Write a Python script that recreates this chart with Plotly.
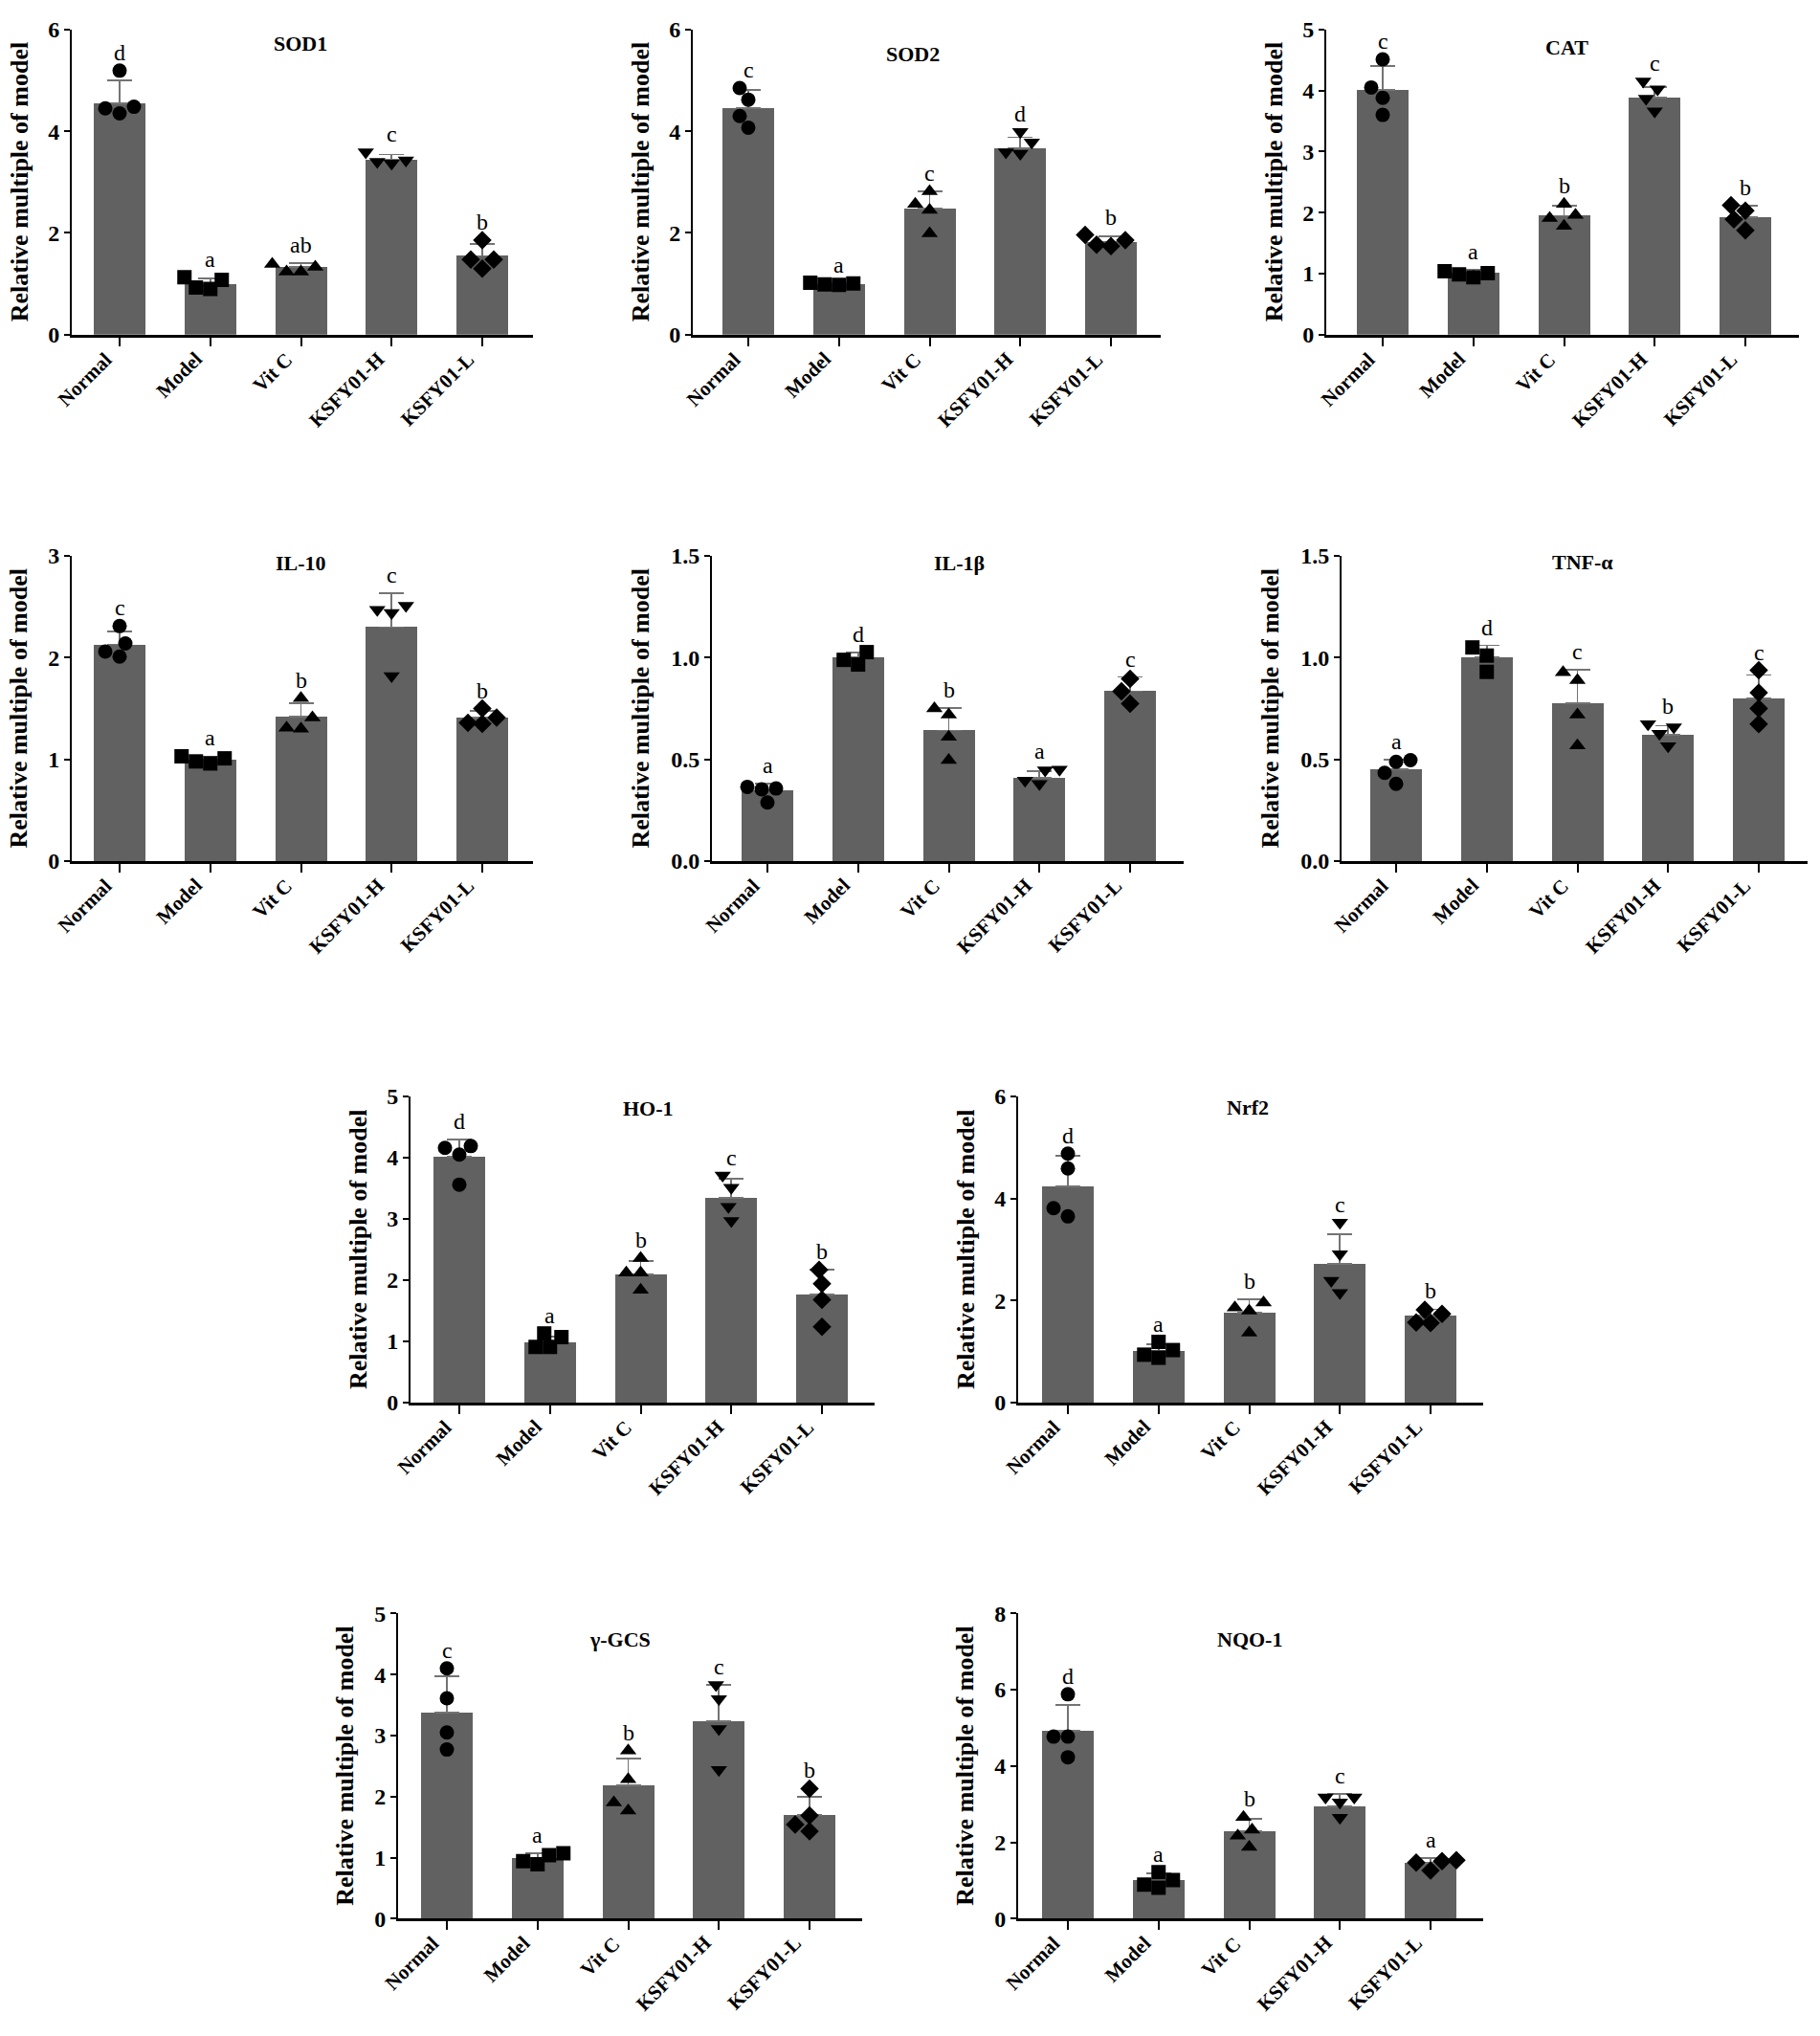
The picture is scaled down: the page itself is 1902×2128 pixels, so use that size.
import plotly.graph_objects as go

# ---------------- data ----------------
groups = ["Normal", "Model", "Vit C", "KSFY01-H", "KSFY01-L"]

sod1_mean = [4.55, 0.99, 1.33, 3.44, 1.55]
sod1_sd = [0.45, 0.12, 0.07, 0.10, 0.23]
sod1_pts = [[5.19, 4.48, 4.45, 4.35], [1.08, 0.90, 0.93, 1.13], [1.33, 1.24, 1.24, 1.39],
            [3.59, 3.37, 3.43, 3.40], [1.48, 1.86, 1.30, 1.48]]
sod1_letters = ["d", "a", "ab", "c", "b"]

sod2_mean = [4.46, 1.00, 2.48, 3.67, 1.83]
sod2_sd = [0.35, 0.02, 0.34, 0.21, 0.10]
sod2_pts = [[4.85, 4.62, 4.30, 4.07], [1.02, 0.99, 1.01, 0.98], [2.82, 2.57, 2.45, 1.99],
            [3.99, 3.78, 3.56, 3.59], [1.86, 1.74, 1.77, 1.96]]
sod2_letters = ["c", "a", "c", "d", "b"]

cat_mean = [4.01, 1.01, 1.95, 3.89, 1.92]
cat_sd = [0.39, 0.06, 0.16, 0.17, 0.19]
cat_pts = [[4.51, 4.05, 3.88, 3.60], [1.01, 0.94, 0.99, 1.04], [2.14, 1.96, 1.91, 1.78],
           [4.15, 4.02, 3.87, 3.66], [2.12, 2.03, 1.89, 1.71]]
cat_letters = ["c", "a", "b", "c", "b"]

il10_mean = [2.13, 1.00, 1.42, 2.30, 1.41]
il10_sd = [0.13, 0.03, 0.13, 0.33, 0.07]
il10_pts = [[2.31, 2.14, 2.06, 2.01], [1.01, 0.96, 0.98, 1.03], [1.60, 1.41, 1.30, 1.31],
            [2.47, 2.44, 2.51, 1.82], [1.41, 1.35, 1.50, 1.36]]
il10_letters = ["c", "a", "b", "c", "b"]

il1b_mean = [0.35, 1.00, 0.642, 0.411, 0.835]
il1b_sd = [0.03, 0.025, 0.11, 0.03, 0.07]
il1b_pts = [[0.353, 0.288, 0.357, 0.365], [1.027, 0.966, 0.989], [0.75, 0.72, 0.61, 0.496],
            [0.447, 0.45, 0.38, 0.396], [0.896, 0.835, 0.773]]
il1b_letters = ["a", "d", "b", "a", "c"]

tnfa_mean = [0.45, 1.00, 0.776, 0.62, 0.80]
tnfa_sd = [0.05, 0.06, 0.165, 0.045, 0.115]
tnfa_pts = [[0.496, 0.488, 0.434, 0.38], [1.05, 1.01, 0.93], [0.927, 0.889, 0.72, 0.568],
            [0.658, 0.673, 0.627, 0.565], [0.938, 0.827, 0.75, 0.673]]
tnfa_letters = ["a", "d", "c", "b", "c"]

ho1_mean = [4.01, 0.99, 2.09, 3.34, 1.77]
ho1_sd = [0.29, 0.09, 0.22, 0.31, 0.40]
ho1_pts = [[4.16, 4.19, 4.05, 3.56], [1.07, 0.91, 0.91, 1.13], [2.36, 2.12, 2.12, 1.84],
           [3.71, 3.51, 3.20, 2.97], [2.17, 1.94, 1.68, 1.24]]
ho1_letters = ["d", "a", "b", "c", "b"]

nrf2_mean = [4.24, 1.02, 1.77, 2.72, 1.71]
nrf2_sd = [0.59, 0.12, 0.26, 0.58, 0.12]
nrf2_pts = [[4.88, 4.59, 3.81, 3.65], [1.03, 0.88, 0.94, 1.19], [1.86, 1.80, 1.96, 1.37],
            [3.53, 2.91, 2.39, 2.15], [1.74, 1.56, 1.57, 1.82]]
nrf2_letters = ["d", "a", "b", "c", "b"]

gcs_mean = [3.38, 1.00, 2.19, 3.23, 1.70]
gcs_sd = [0.59, 0.07, 0.43, 0.60, 0.30]
gcs_pts = [[4.10, 3.61, 3.05, 2.77], [1.04, 0.89, 0.94, 1.07], [2.75, 2.28, 1.90, 1.77],
           [3.60, 3.83, 3.11, 2.44], [2.13, 1.69, 1.54, 1.43]]
gcs_letters = ["c", "a", "b", "c", "b"]

nqo1_mean = [4.92, 1.01, 2.29, 2.94, 1.47]
nqo1_sd = [0.69, 0.17, 0.32, 0.32, 0.12]
nqo1_pts = [[5.88, 4.77, 4.77, 4.23], [1.01, 0.81, 0.89, 1.22], [2.66, 2.33, 2.17, 1.88],
            [3.18, 3.05, 3.18, 2.65], [1.47, 1.26, 1.51, 1.53]]
nqo1_letters = ["d", "a", "b", "c", "a"]

titles = ["SOD1", "SOD2", "CAT", "IL-10", "IL-1β", "TNF-α", "HO-1", "Nrf2", "γ-GCS", "NQO-1"]
y_max = [6, 6, 5, 3, 1.5, 1.5, 5, 6, 5, 8]
y_step = [2, 2, 1, 1, 0.5, 0.5, 1, 2, 1, 2]
y_fmt = ["d", "d", "d", "d", ".1f", ".1f", "d", "d", "d", "d"]

data = [
    (sod1_mean, sod1_sd, sod1_pts, sod1_letters),
    (sod2_mean, sod2_sd, sod2_pts, sod2_letters),
    (cat_mean, cat_sd, cat_pts, cat_letters),
    (il10_mean, il10_sd, il10_pts, il10_letters),
    (il1b_mean, il1b_sd, il1b_pts, il1b_letters),
    (tnfa_mean, tnfa_sd, tnfa_pts, tnfa_letters),
    (ho1_mean, ho1_sd, ho1_pts, ho1_letters),
    (nrf2_mean, nrf2_sd, nrf2_pts, nrf2_letters),
    (gcs_mean, gcs_sd, gcs_pts, gcs_letters),
    (nqo1_mean, nqo1_sd, nqo1_pts, nqo1_letters),
]

# ---------------- layout (pixels) ----------------
W, H = 1902, 2128
PITCH = 94.75
rows = {1: (341, 18), 2: (898, 575), 3: (1471, 1147), 4: (2017, 1694)}
# (row, y-axis x, first tick x, x-axis end)
geo = [
    (1, 75, 125, 557), (1, 724, 782, 1213), (1, 1386, 1445, 1880),
    (2, 75, 125, 557), (2, 744, 802, 1237), (2, 1402, 1459, 1889),
    (3, 429, 480, 914), (3, 1064, 1116, 1550),
    (4, 416, 467, 901), (4, 1064, 1116, 1550),
]
title_pos = [(1.99, 0.955), (1.81, 0.92), (2.03, 0.94), (2.0, 0.975), (2.12, 0.975),
             (2.06, 0.98), (2.08, 0.96), (1.98, 0.965), (1.91, 0.915), (2.0, 0.915)]

symbols = ["circle", "square", "triangle-up", "triangle-down", "diamond"]
BAR = "#616161"
FONT = "Liberation Serif"
MS = 15


def swarm(vals, px_per_unit):
    placed = []
    offs = [0.0] * len(vals)
    order = sorted(range(len(vals)), key=lambda k: vals[k])
    cands = [0]
    for j in range(1, 14):
        cands += [-3 * j, 3 * j]
    for k in order:
        yp = vals[k] * px_per_unit
        for c in cands:
            if all((c - px) ** 2 + (yp - py) ** 2 >= MS ** 2 for py, px in placed):
                break
        placed.append((yp, c))
        offs[k] = c / PITCH
    return offs


fig = go.Figure()
annotations = []
layout_axes = {}

for p, (title, (mean, sd, pts, letters)) in enumerate(zip(titles, data)):
    row, xa, xf, xe = geo[p]
    yz, yt = rows[row]
    n = "" if p == 0 else str(p + 1)
    xref, yref = "x" + n, "y" + n
    xlo = -(xf - xa) / PITCH
    xhi = (xe - xf) / PITCH
    px_per_unit = (yz - yt) / y_max[p]
    xs = list(range(len(groups)))

    fig.add_trace(go.Bar(
        x=xs, y=mean, width=0.57, marker=dict(color=BAR, line=dict(width=0)),
        error_y=dict(type="data", array=sd, arrayminus=[0] * len(sd), symmetric=False,
                     color="#747474", thickness=1.8, width=13),
        xaxis=xref, yaxis=yref, showlegend=False, hoverinfo="skip"))

    for g in range(len(groups)):
        offs = swarm(pts[g], px_per_unit)
        fig.add_trace(go.Scatter(
            x=[g + o for o in offs], y=pts[g], mode="markers",
            marker=dict(symbol=symbols[g], size=MS, color="black", line=dict(width=0)),
            xaxis=xref, yaxis=yref, showlegend=False, hoverinfo="skip"))
        top = max(mean[g] + sd[g], max(pts[g]))
        annotations.append(dict(
            x=g, y=top, xref=xref, yref=yref, text=letters[g], showarrow=False,
            yanchor="bottom", yshift=4, font=dict(family=FONT, size=24, color="black")))
        # category label, rotated, ending just left of the tick
        annotations.append(dict(
            x=g, y=0, xref=xref, yref=yref + " domain", text=groups[g], showarrow=False,
            textangle=-45, xanchor="right", yanchor="top", xshift=-1, yshift=-11,
            font=dict(family=FONT, size=21, color="black", weight="bold")))

    tx, ty = title_pos[p]
    annotations.append(dict(
        x=tx, y=ty, xref=xref, yref=yref + " domain", text=title, showarrow=False,
        yanchor="middle",
        font=dict(family=FONT, size=22, color="black", weight="bold")))

    off = 74 if y_fmt[p] == ".1f" else 55
    annotations.append(dict(
        x=-off / (xe - xa), y=0.5, xref=xref + " domain", yref=yref + " domain",
        text="Relative multiple of model", textangle=-90, showarrow=False,
        xanchor="center", yanchor="middle",
        font=dict(family=FONT, size=26, color="black", weight="bold")))

    ticks = []
    v = 0.0
    while v <= y_max[p] + 1e-9:
        ticks.append(round(v, 3))
        v += y_step[p]

    layout_axes["xaxis" + n] = dict(
        domain=[xa / W, xe / W], range=[xlo, xhi], anchor=yref,
        tickvals=xs, showticklabels=False,
        showline=True, linecolor="black", linewidth=3, mirror=False,
        ticks="outside", ticklen=9, tickwidth=2, tickcolor="black",
        showgrid=False, zeroline=False, fixedrange=True)
    layout_axes["yaxis" + n] = dict(
        domain=[(H - yz) / H, (H - yt) / H], range=[0, y_max[p]], anchor=xref,
        tickvals=ticks, tickformat=y_fmt[p],
        tickfont=dict(family=FONT, size=24, color="black", weight="bold"),
        showline=True, linecolor="black", linewidth=2,
        ticks="outside", ticklen=6, tickwidth=2, tickcolor="black",
        showgrid=False, zeroline=False, fixedrange=True)

fig.update_layout(
    width=W, height=H, margin=dict(l=0, r=0, t=0, b=0),
    paper_bgcolor="white", plot_bgcolor="white",
    annotations=annotations, bargap=0, **layout_axes)

fig.write_html("out.html", config={"displayModeBar": False, "staticPlot": True},
               post_script="document.body.style.margin='0px';document.body.style.overflow='hidden';")
